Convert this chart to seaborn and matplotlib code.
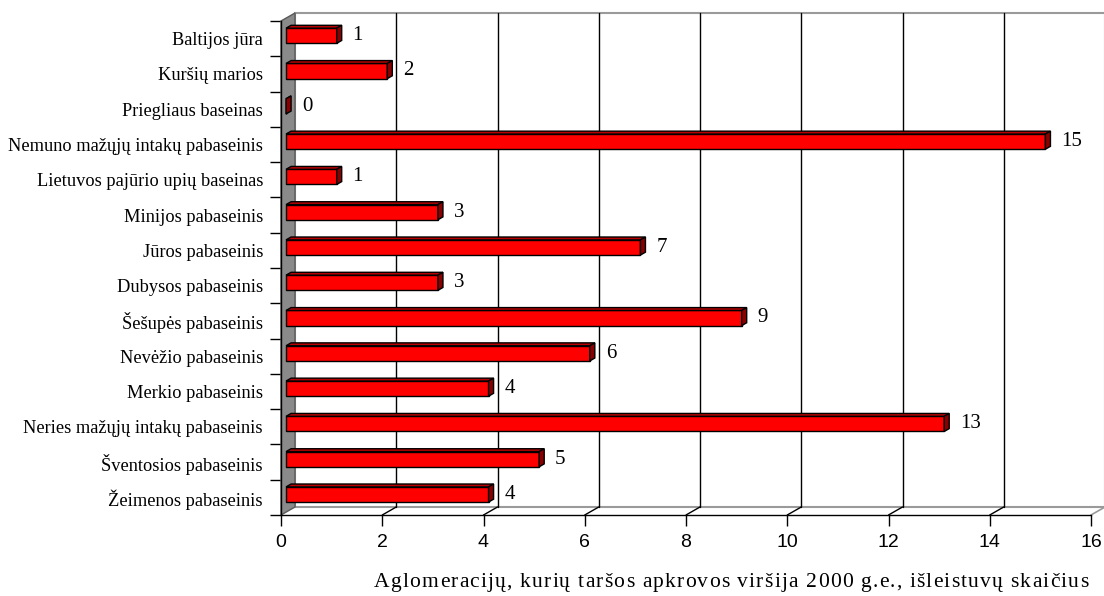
import numpy as np
import pandas as pd
import matplotlib
matplotlib.use("Agg")
import matplotlib.pyplot as plt
import matplotlib.transforms as mtransforms
from matplotlib.patches import Polygon, Rectangle
from matplotlib.lines import Line2D
import seaborn as sns

# Basin names (top to bottom) and number of outlets per basin
categories = [
    "Baltijos jūra",
    "Kuršių marios",
    "Priegliaus baseinas",
    "Nemuno mažųjų intakų pabaseinis",
    "Lietuvos pajūrio upių baseinas",
    "Minijos pabaseinis",
    "Jūros pabaseinis",
    "Dubysos pabaseinis",
    "Šešupės pabaseinis",
    "Nevėžio pabaseinis",
    "Merkio pabaseinis",
    "Neries mažųjų intakų pabaseinis",
    "Šventosios pabaseinis",
    "Žeimenos pabaseinis",
]
counts = [1, 2, 0, 15, 1, 3, 7, 3, 9, 6, 4, 13, 5, 4]
x_ticks = [0, 2, 4, 6, 8, 10, 12, 14, 16]
x_title = "Aglomeracijų, kurių taršos apkrovos viršija 2000 g.e., išleistuvų skaičius"

sns.set_theme(style="white")
SERIF = "Liberation Serif"
SANS = "Liberation Sans"

W, H = 1104, 596
fig = plt.figure(figsize=(W / 100, H / 100), dpi=100)
ax = fig.add_axes([281 / W, 81 / H, 810 / W, 494 / H])
ax.set_facecolor("none")

df = pd.DataFrame({"basin": categories, "count": counts})
sns.barplot(data=df, x="count", y="basin", orient="h", color="#FF0000",
            saturation=1, edgecolor="black", linewidth=1, width=0.43,
            ax=ax, zorder=6)
bars = [p for p in ax.patches if isinstance(p, Rectangle)]

n = len(categories)
xmax = x_ticks[-1]
ax.set_xlim(0, xmax)
ax.set_ylim(n - 0.5, -0.5)

# Oblique depth of the pseudo-3D box, in pixels (right, up)
DEPTH_PX = (14, 8)
pxx = ax.bbox.width / xmax
pxy = ax.bbox.height / n
DX = DEPTH_PX[0] / pxx
DY = -DEPTH_PX[1] / pxy


def P(x, y, d):
    return (x + d * DX, y + d * DY)


top, bot = -0.5, n - 0.5
wall_kw = dict(clip_on=False)

# back wall
ax.add_patch(Polygon([P(0, top, 1), P(xmax, top, 1), P(xmax, bot, 1), P(0, bot, 1)],
                     closed=True, facecolor="white", edgecolor="#9A9A9A",
                     linewidth=1.5, zorder=1, **wall_kw))
# gridlines on the back wall and floor diagonals
for t in x_ticks[1:-1]:
    a, b = P(t, bot, 1), P(t, top, 1)
    ax.add_line(Line2D([a[0], b[0]], [a[1], b[1]], color="black", lw=1, zorder=2, **wall_kw))
    c = P(t, bot, 0)
    ax.add_line(Line2D([c[0], a[0]], [c[1], a[1]], color="black", lw=1, zorder=2, **wall_kw))
a, b = P(xmax, bot, 0), P(xmax, bot, 1)
ax.add_line(Line2D([a[0], b[0]], [a[1], b[1]], color="#9A9A9A", lw=1.2, zorder=2, **wall_kw))

# left side wall
ax.add_patch(Polygon([P(0, top, 0), P(0, top, 1), P(0, bot, 1), P(0, bot, 0)],
                     closed=True, facecolor="#8A8A8A", edgecolor="#5A5A5A",
                     linewidth=1, zorder=3, **wall_kw))

# bars: shift the front faces into the box and add top / side faces
F0, F1 = 0.36, 0.72
for patch, v in zip(bars, counts):
    x0, y0, h = patch.get_x(), patch.get_y(), patch.get_height()
    fx, fy = P(x0, y0, F0)
    patch.set_x(fx)
    patch.set_y(fy)
    yt, yb = y0, y0 + h
    ax.add_patch(Polygon([P(x0, yt, F0), P(x0 + v, yt, F0), P(x0 + v, yt, F1), P(x0, yt, F1)],
                         closed=True, facecolor="#B80000", edgecolor="black",
                         linewidth=1, zorder=6))
    ax.add_patch(Polygon([P(x0 + v, yt, F0), P(x0 + v, yb, F0), P(x0 + v, yb, F1), P(x0 + v, yt, F1)],
                         closed=True, facecolor="#8A0000", edgecolor="black",
                         linewidth=1, zorder=6))

# value labels
lab_tr = mtransforms.offset_copy(ax.transData, fig=fig, x=21, y=3, units="dots")
for i, v in enumerate(counts):
    ax.text(v, i, str(v), transform=lab_tr, ha="left", va="center",
            family=SERIF, fontsize=15, color="black", zorder=7)

# axes, ticks, labels
for s in ["top", "right"]:
    ax.spines[s].set_visible(False)
for s in ["left", "bottom"]:
    ax.spines[s].set_visible(True)
    ax.spines[s].set_color("black")
    ax.spines[s].set_linewidth(1)
    ax.spines[s].set_zorder(4)
ax.grid(False)
ax.set_xlabel("")
ax.set_ylabel("")

ax.set_xticks(x_ticks)
ax.set_xticklabels([str(t) for t in x_ticks], family=SANS, fontsize=14)
ax.tick_params(axis="x", which="major", bottom=True, direction="out",
               length=8, width=1, color="black", pad=6, labelcolor="black")

ax.set_yticks(range(n))
ax.set_yticklabels(categories, family=SERIF, fontsize=13.2)
ax.set_yticks(np.arange(-0.5, n, 1), minor=True)
ax.tick_params(axis="y", which="major", left=True, length=0, pad=13, labelcolor="black")
ax.tick_params(axis="y", which="minor", left=True, direction="out",
               length=8, width=1, color="black")

# axis title, drawn with slightly widened letter spacing
renderer = fig.canvas.get_renderer()
TITLE_SIZE = 15.5
TRACK = 1.2  # extra pixels between characters
probe = fig.text(0, 0, "|", family=SERIF, fontsize=TITLE_SIZE)
bar_w = probe.get_window_extent(renderer).width


def advance(s):
    probe.set_text(s + "|")
    return probe.get_window_extent(renderer).width - bar_w


total = advance(x_title) + TRACK * (len(x_title) - 1)
cx, cy = 731, 580
x_start = cx - total / 2
positions = [(ch, x_start + advance(x_title[:k]) + TRACK * k)
             for k, ch in enumerate(x_title) if ch != " "]
probe.remove()
for ch, xk in positions:
    fig.text(xk / W, 1 - cy / H, ch, ha="left", va="center_baseline",
             family=SERIF, fontsize=TITLE_SIZE, color="black")

fig.savefig("out.png", dpi=100, facecolor="white")
